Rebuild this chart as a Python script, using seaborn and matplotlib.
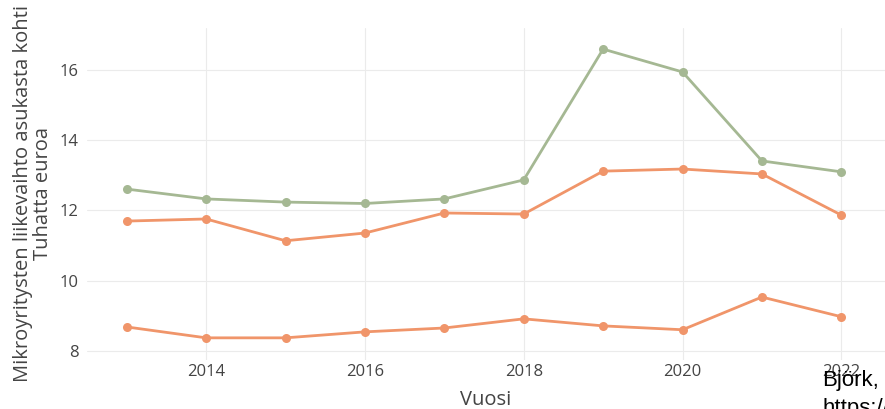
import matplotlib
matplotlib.use('Agg')
import pandas as pd
import matplotlib.pyplot as plt
import seaborn as sns

# Data
vuodet = [2013, 2014, 2015, 2016, 2017, 2018, 2019, 2020, 2021, 2022]
sarja_vihrea = [12.60, 12.32, 12.23, 12.19, 12.32, 12.86, 16.58, 15.93, 13.40, 13.09]
sarja_oranssi_1 = [11.69, 11.75, 11.13, 11.35, 11.92, 11.89, 13.11, 13.17, 13.03, 11.86]
sarja_oranssi_2 = [8.68, 8.37, 8.37, 8.54, 8.65, 8.91, 8.71, 8.60, 9.53, 8.97]
nimet = ['A', 'B', 'C']
varit = ['#a5b893', '#f0956a', '#f0956a']

df = pd.concat([
    pd.DataFrame({'Vuosi': vuodet, 'arvo': s, 'sarja': n})
    for s, n in zip([sarja_vihrea, sarja_oranssi_1, sarja_oranssi_2], nimet)
], ignore_index=True)

sns.set_style('whitegrid', {'grid.color': '#ebebeb', 'axes.edgecolor': 'white'})
plt.rcParams['font.family'] = ['Open Sans', 'DejaVu Sans']

fig = plt.figure(figsize=(8.85, 4.09), dpi=100)
ax = fig.add_axes([87 / 885, 1 - 360 / 409, 1 - 87 / 885, (360 - 28) / 409])

sns.lineplot(data=df, x='Vuosi', y='arvo', hue='sarja', palette=dict(zip(nimet, varit)),
             marker='o', markersize=6.5, markeredgewidth=0, linewidth=2,
             legend=False, ax=ax)

ax.set_xlim(2012.5, 2022.55)
ax.set_ylim(7.74, 17.18)
ax.set_xticks([2014, 2016, 2018, 2020, 2022])
ax.set_yticks([8, 10, 12, 14, 16])
ax.tick_params(colors='#444444', labelsize=12, length=0)
ax.tick_params(axis='x', pad=3)
ax.tick_params(axis='y', pad=6)
for s in ax.spines.values():
    s.set_visible(False)

ax.set_xlabel('Vuosi', fontsize=14.5, color='#444444', labelpad=7)
ax.set_ylabel('Mikroyritysten liikevaihto asukasta kohti\nTuhatta euroa',
              fontsize=14.5, color='#444444', labelpad=5, linespacing=1.0)

fig.text(822 / 885, 1 - 370 / 409, 'Björk,\nhttps://', fontsize=16, color='black',
         family=['Liberation Sans', 'DejaVu Sans'], va='top', ha='left',
         linespacing=1.45)

fig.savefig('out.png', dpi=100)
